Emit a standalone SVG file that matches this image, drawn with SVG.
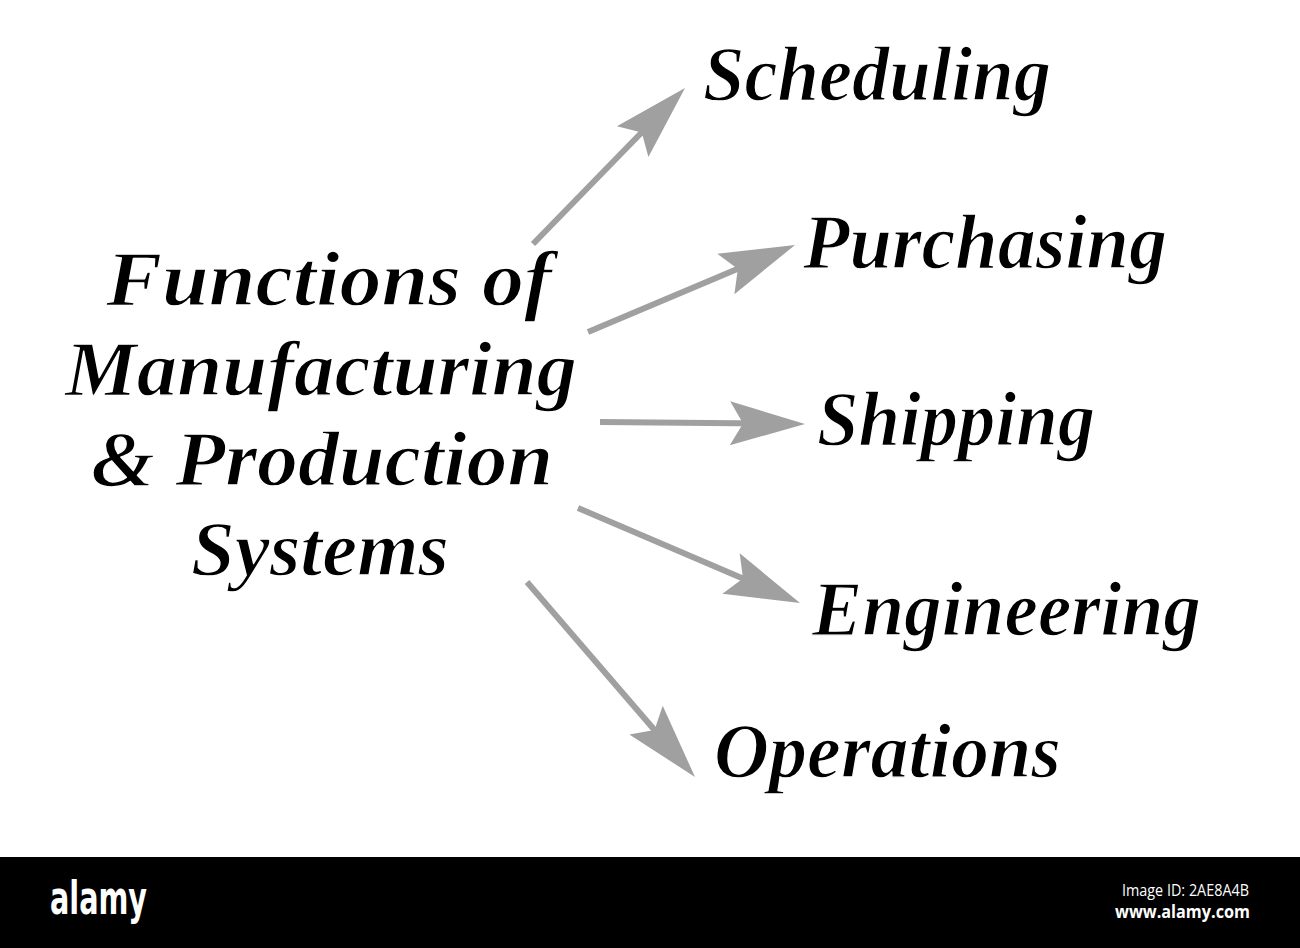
<svg xmlns="http://www.w3.org/2000/svg" xmlns:xlink="http://www.w3.org/1999/xlink" width="1300" height="948" viewBox="0 0 1300 948">
  <style>
    .lbl { font-family: "Liberation Serif", "Times New Roman", serif; font-style: italic; font-weight: bold; font-size: 79px; fill: #000000; stroke: #ffffff; stroke-width: 1.3; stroke-linejoin: round; }
    .conn { stroke: #a0a0a0; stroke-width: 6; fill: none; stroke-linecap: butt; }
    .head { fill: #a0a0a0; }
    .wm { font-family: "Open Sans", "DejaVu Sans", sans-serif; fill: #ffffff; }
  </style>
  <defs>
    <path id="arrowhead" class="head" d="M0,0 L-75,-22 L-62,0 L-75,22 Z"/>
  </defs>
  <rect x="0" y="0" width="1300" height="948" fill="#ffffff"/>

  <g id="connectors">
    <line class="conn" x1="533" y1="244" x2="664" y2="109.5"/>
    <use xlink:href="#arrowhead" transform="translate(685,88) rotate(-45.74)"/>
    <line class="conn" x1="588" y1="332" x2="767" y2="256.6"/>
    <use xlink:href="#arrowhead" transform="translate(795,245) rotate(-22.8)"/>
    <line class="conn" x1="600" y1="422" x2="775" y2="423.7"/>
    <use xlink:href="#arrowhead" transform="translate(805,424) rotate(0.56)"/>
    <line class="conn" x1="578" y1="508" x2="772.4" y2="591.2"/>
    <use xlink:href="#arrowhead" transform="translate(800,603) rotate(23.17)"/>
    <line class="conn" x1="527" y1="582" x2="675.4" y2="754.3"/>
    <use xlink:href="#arrowhead" transform="translate(695,777) rotate(49.25)"/>
  </g>

  <g id="node-center">
    <text class="lbl" x="329" y="305" text-anchor="middle" textLength="446" lengthAdjust="spacingAndGlyphs">Functions of</text>
    <text class="lbl" x="321" y="395" text-anchor="middle" textLength="512" lengthAdjust="spacingAndGlyphs">Manufacturing</text>
    <text class="lbl" x="322" y="485" text-anchor="middle" textLength="462" lengthAdjust="spacingAndGlyphs">&amp; Production</text>
    <text class="lbl" x="320" y="575" text-anchor="middle" textLength="258" lengthAdjust="spacingAndGlyphs">Systems</text>
  </g>

  <g id="node-scheduling">
    <text class="lbl" x="703" y="100" textLength="348" lengthAdjust="spacingAndGlyphs">Scheduling</text>
  </g>
  <g id="node-purchasing">
    <text class="lbl" x="803" y="268" textLength="364" lengthAdjust="spacingAndGlyphs">Purchasing</text>
  </g>
  <g id="node-shipping">
    <text class="lbl" x="817" y="445" textLength="278" lengthAdjust="spacingAndGlyphs">Shipping</text>
  </g>
  <g id="node-engineering">
    <text class="lbl" x="812" y="635" textLength="389" lengthAdjust="spacingAndGlyphs">Engineering</text>
  </g>
  <g id="node-operations">
    <text class="lbl" x="714" y="777" textLength="347" lengthAdjust="spacingAndGlyphs">Operations</text>
  </g>

  <g id="watermark-bar">
    <rect x="0" y="857" width="1300" height="91" fill="#000000"/>
    <text x="50" y="914" font-family="'Liberation Sans Narrow', 'DejaVu Sans Condensed', 'Liberation Sans', sans-serif" font-weight="bold" font-size="47" fill="#ffffff" textLength="97" lengthAdjust="spacingAndGlyphs">alamy</text>
    <text class="wm" x="1122" y="896" font-size="15.5" textLength="127" lengthAdjust="spacingAndGlyphs">Image ID: 2AE8A4B</text>
    <text class="wm" x="1115" y="918" font-size="18" font-weight="bold" textLength="135" lengthAdjust="spacingAndGlyphs">www.alamy.com</text>
  </g>
</svg>
